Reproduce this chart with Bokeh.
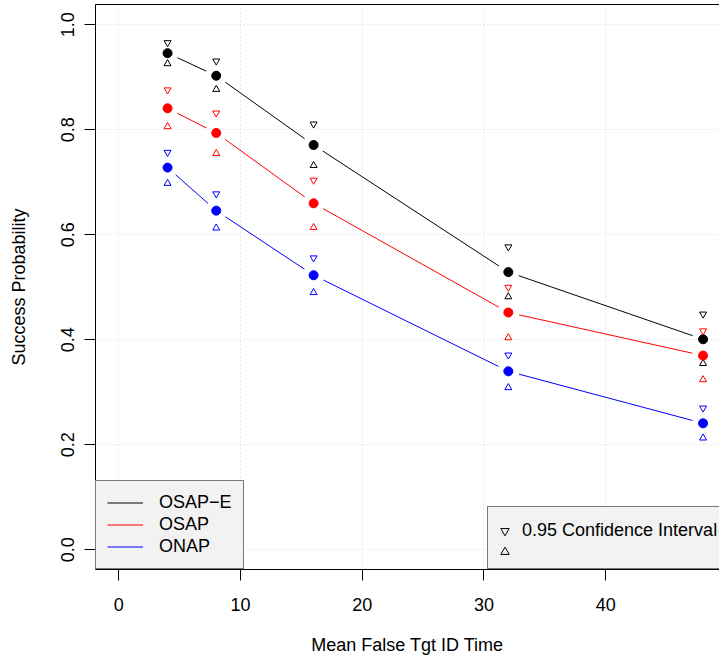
import math
from bokeh.plotting import figure
from bokeh.models import (Range1d, LinearAxis, FixedTicker, Legend, LegendItem,
                          PrintfTickFormatter)
from bokeh.embed import file_html
from bokeh.resources import INLINE

# ---- data ----
x_time = [4, 8, 16, 32, 48]

osap_e = [0.946, 0.903, 0.771, 0.529, 0.401]
osap_e_hi = [0.966, 0.931, 0.811, 0.577, 0.449]
osap_e_lo = [0.926, 0.877, 0.732, 0.482, 0.355]

osap = [0.841, 0.794, 0.660, 0.452, 0.370]
osap_hi = [0.876, 0.832, 0.704, 0.500, 0.417]
osap_lo = [0.806, 0.755, 0.614, 0.404, 0.324]

onap = [0.728, 0.646, 0.523, 0.340, 0.241]
onap_hi = [0.757, 0.678, 0.556, 0.371, 0.270]
onap_lo = [0.698, 0.613, 0.490, 0.309, 0.213]

series_names = ["OSAP\u2212E", "OSAP", "ONAP"]
series_colors = ["black", "#FF0000", "#0000FF"]
x_ticks = [0, 10, 20, 30, 40]
y_ticks = [0.0, 0.2, 0.4, 0.6, 0.8, 1.0]
ci_label = "0.95 Confidence Interval"

# ---- layout ----
W, H = 719, 659
ML, MR, MT, MB = 95, 0, 4, 90
FW, FH = W - ML - MR, H - MT - MB
X0, X1 = -1.92, 49.35
Y0, Y1 = -0.0375, 1.0387
FONT = "Liberation Sans"
FS = "18px"

p = figure(width=W, height=H, x_range=Range1d(X0, X1), y_range=Range1d(Y0, Y1),
           output_backend="svg", toolbar_location=None,
           min_border_left=ML, min_border_right=MR, min_border_top=MT,
           min_border_bottom=MB, x_axis_label="Mean False Tgt ID Time",
           y_axis_label="Success Probability")
p.outline_line_color = None
p.background_fill_color = "white"
p.border_fill_color = "white"

for ax in (p.xaxis[0], p.yaxis[0]):
    ax.axis_line_color = "black"
    ax.major_tick_line_color = "black"
    ax.major_tick_out = 11
    ax.major_tick_in = 0
    ax.minor_tick_line_color = None
    ax.major_label_text_font = FONT
    ax.major_label_text_font_size = FS
    ax.major_label_text_color = "black"
    ax.axis_label_text_font = FONT
    ax.axis_label_text_font_size = FS
    ax.axis_label_text_font_style = "normal"
    ax.axis_label_text_color = "black"

p.xaxis[0].ticker = FixedTicker(ticks=x_ticks)
p.xaxis[0].major_label_standoff = 17
p.xaxis[0].axis_label_standoff = 21
p.yaxis[0].ticker = FixedTicker(ticks=y_ticks)
p.yaxis[0].formatter = PrintfTickFormatter(format="%.1f")
p.yaxis[0].major_label_orientation = "vertical"
p.yaxis[0].major_label_standoff = 10
p.yaxis[0].axis_label_standoff = 30

top_axis = LinearAxis(ticker=FixedTicker(ticks=[]), axis_line_color="black",
                      major_tick_line_color=None, minor_tick_line_color=None,
                      major_tick_out=0, minor_tick_out=0, major_tick_in=0,
                      minor_tick_in=0, major_label_standoff=0,
                      major_label_text_font_size="0px")
p.add_layout(top_axis, "above")

p.xgrid.ticker = FixedTicker(ticks=x_ticks)
p.ygrid.ticker = FixedTicker(ticks=y_ticks)
for g in (p.xgrid[0], p.ygrid[0]):
    g.grid_line_color = "#D3D3D3"
    g.grid_line_dash = "1 3"
    g.grid_line_width = 1

sx = FW / (X1 - X0)
sy = FH / (Y1 - Y0)


def gapped(xs, ys, gap=11.0):
    a0, b0, a1, b1 = [], [], [], []
    for i in range(len(xs) - 1):
        dxv = xs[i + 1] - xs[i]
        dyv = ys[i + 1] - ys[i]
        d = math.hypot(dxv * sx, dyv * sy)
        f = gap / d
        a0.append(xs[i] + dxv * f)
        b0.append(ys[i] + dyv * f)
        a1.append(xs[i + 1] - dxv * f)
        b1.append(ys[i + 1] - dyv * f)
    return a0, b0, a1, b1


line_renderers = []
ci_renderers = []
for mid, hi, lo, col in [(osap_e, osap_e_hi, osap_e_lo, series_colors[0]),
                         (osap, osap_hi, osap_lo, series_colors[1]),
                         (onap, onap_hi, onap_lo, series_colors[2])]:
    a0, b0, a1, b1 = gapped(x_time, mid)
    r = p.segment(a0, b0, a1, b1, line_color=col, line_width=1)
    line_renderers.append(r)
    p.scatter(x_time, mid, marker="circle", size=9, fill_color=col, line_color=col)
    ru = p.scatter(x_time, hi, marker="inverted_triangle", size=7, fill_color=None,
                   line_color=col, line_width=1)
    rl = p.scatter(x_time, lo, marker="triangle", size=7, fill_color=None,
                   line_color=col, line_width=1)
    ci_renderers.append((ru, rl))

leg1 = Legend(items=[LegendItem(label=n, renderers=[r]) for n, r in zip(series_names, line_renderers)],
              location=(0, 0), padding=11, spacing=1, glyph_width=36, glyph_height=21,
              label_height=21, label_width=72, label_standoff=16,
              label_text_font=FONT, label_text_font_size=FS, label_text_color="black",
              background_fill_color="#F2F2F2", background_fill_alpha=1.0,
              border_line_color="black", border_line_width=1, margin=0)
p.add_layout(leg1, "center")

leg2 = Legend(items=[LegendItem(label=ci_label, renderers=[ci_renderers[0][0]]),
                     LegendItem(label=" ", renderers=[ci_renderers[0][1]])],
              location=(392, 0), padding=6, spacing=0, glyph_width=21, glyph_height=21,
              label_height=21, label_standoff=7,
              title=" ", title_text_font_size="7px", title_standoff=0,
              label_text_font=FONT, label_text_font_size=FS, label_text_color="black",
              background_fill_color="#F2F2F2", background_fill_alpha=1.0,
              border_line_color="black", border_line_width=1, margin=0)
p.add_layout(leg2, "center")

open("out.html", "w").write(file_html(p, INLINE))
